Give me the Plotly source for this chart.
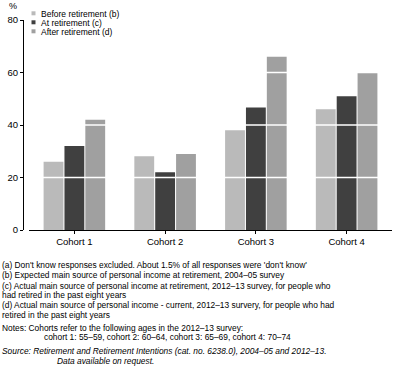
import plotly.graph_objects as go

CATEGORIES = ["Cohort 1", "Cohort 2", "Cohort 3", "Cohort 4"]
SERIES_NAMES = ["Before retirement (b)", "At retirement (c)", "After retirement (d)"]
BEFORE = [26, 28.1, 38, 46]
AT = [32, 22, 46.7, 51]
AFTER = [42, 29, 66, 60]
COLORS = ["#bababa", "#404040", "#a0a0a0"]
Y_TICKS = [0, 20, 40, 60, 80]
GRID = [20, 40, 60]

FOOTNOTES = [
    (1, 265, "(a) Don't know responses excluded. About 1.5% of all responses were 'don't know'", False),
    (1, 275.3, "(b) Expected main source of personal income at retirement, 2004–05 survey", False),
    (1, 285.5, "(c) Actual main source of personal income at retirement, 2012–13 survey, for people who", False),
    (1, 295, "had retired in the past eight years", False),
    (1, 305, "(d) Actual main source of personal income - current, 2012–13 survery, for people who had", False),
    (1, 314.5, "retired in the past eight years", False),
    (1, 327.5, "Notes: Cohorts refer to the following ages in the 2012–13 survey:", False),
    (43, 337, "cohort 1: 55–59, cohort 2: 60–64, cohort 3: 65–69, cohort 4: 70–74", False),
    (1, 350.5, "Source: Retirement and Retirement Intentions (cat. no. 6238.0), 2004–05 and 2012–13.", True),
    (56, 360.5, "Data available on request.", True),
]

W, H = 397, 378
ML, MR, MT, MB = 0, 5, 20, 148
PW = W - ML - MR
PH = H - MT - MB
FONT = "Liberation Sans, Arial, sans-serif"


def px_x(x):
    return (x - ML) / PW


def px_y(y):
    return (H - MB - y) / PH


fig = go.Figure()
for name, vals, col in zip(SERIES_NAMES, [BEFORE, AT, AFTER], COLORS):
    fig.add_trace(go.Bar(x=CATEGORIES, y=vals, name=name, marker=dict(color=col, line=dict(width=0)),
                         showlegend=False))

shapes = []
for g in GRID:
    shapes.append(dict(type="line", xref="x domain", yref="y", x0=0, x1=1, y0=g, y1=g,
                       line=dict(color="white", width=1.3), layer="above"))

annotations = []
legend_rows = [13.8, 22.8, 31.8]
for name, col, yy in zip(SERIES_NAMES, COLORS, legend_rows):
    shapes.append(dict(type="rect", xref="paper", yref="paper",
                       x0=px_x(31.5), x1=px_x(35.5), y0=px_y(yy + 1.5), y1=px_y(yy - 2.5),
                       fillcolor=col, line=dict(width=0)))
    annotations.append(dict(text=name, xref="paper", yref="paper", x=px_x(40), y=px_y(yy),
                            xanchor="left", yanchor="middle", showarrow=False, borderpad=0,
                            font=dict(size=8.5, color="#000", family=FONT)))

annotations.append(dict(text="%", xref="paper", yref="paper", x=px_x(12.5), y=px_y(5.5),
                        xanchor="center", yanchor="middle", showarrow=False,
                        font=dict(size=9, color="#000", family=FONT)))

for x, y, t, ital in FOOTNOTES:
    txt = f"<i>{t}</i>" if ital else t
    annotations.append(dict(text=txt, xref="paper", yref="paper", x=px_x(x), y=px_y(y),
                            xanchor="left", yanchor="middle", showarrow=False, borderpad=0,
                            font=dict(size=8.4, color="#000", family=FONT)))

fig.update_layout(
    width=W, height=H,
    margin=dict(l=ML, r=MR, t=MT, b=MB),
    paper_bgcolor="white", plot_bgcolor="white",
    barmode="group", bargap=0.31, bargroupgap=0.05,
    font=dict(family=FONT, size=9.5, color="#000"),
    xaxis=dict(domain=[px_x(29), 1], range=[-0.5, 3.5], showline=True, linecolor="#000", linewidth=1,
               ticks="outside", ticklen=3, tickcolor="#000", showgrid=False,
               tickfont=dict(size=9.5, family=FONT, color="#000")),
    yaxis=dict(range=[0, 80], tickvals=Y_TICKS, anchor="free", position=px_x(23),
               showline=True, linecolor="#000", linewidth=1, ticks="outside", ticklen=3,
               tickcolor="#000", showgrid=False, zeroline=False,
               tickfont=dict(size=9.5, family=FONT, color="#000")),
    shapes=shapes,
    annotations=annotations,
    showlegend=False,
)

fig.write_html("out.html", config={"displayModeBar": False},
               post_script="document.body.style.margin='0';document.body.style.overflow='hidden';")
